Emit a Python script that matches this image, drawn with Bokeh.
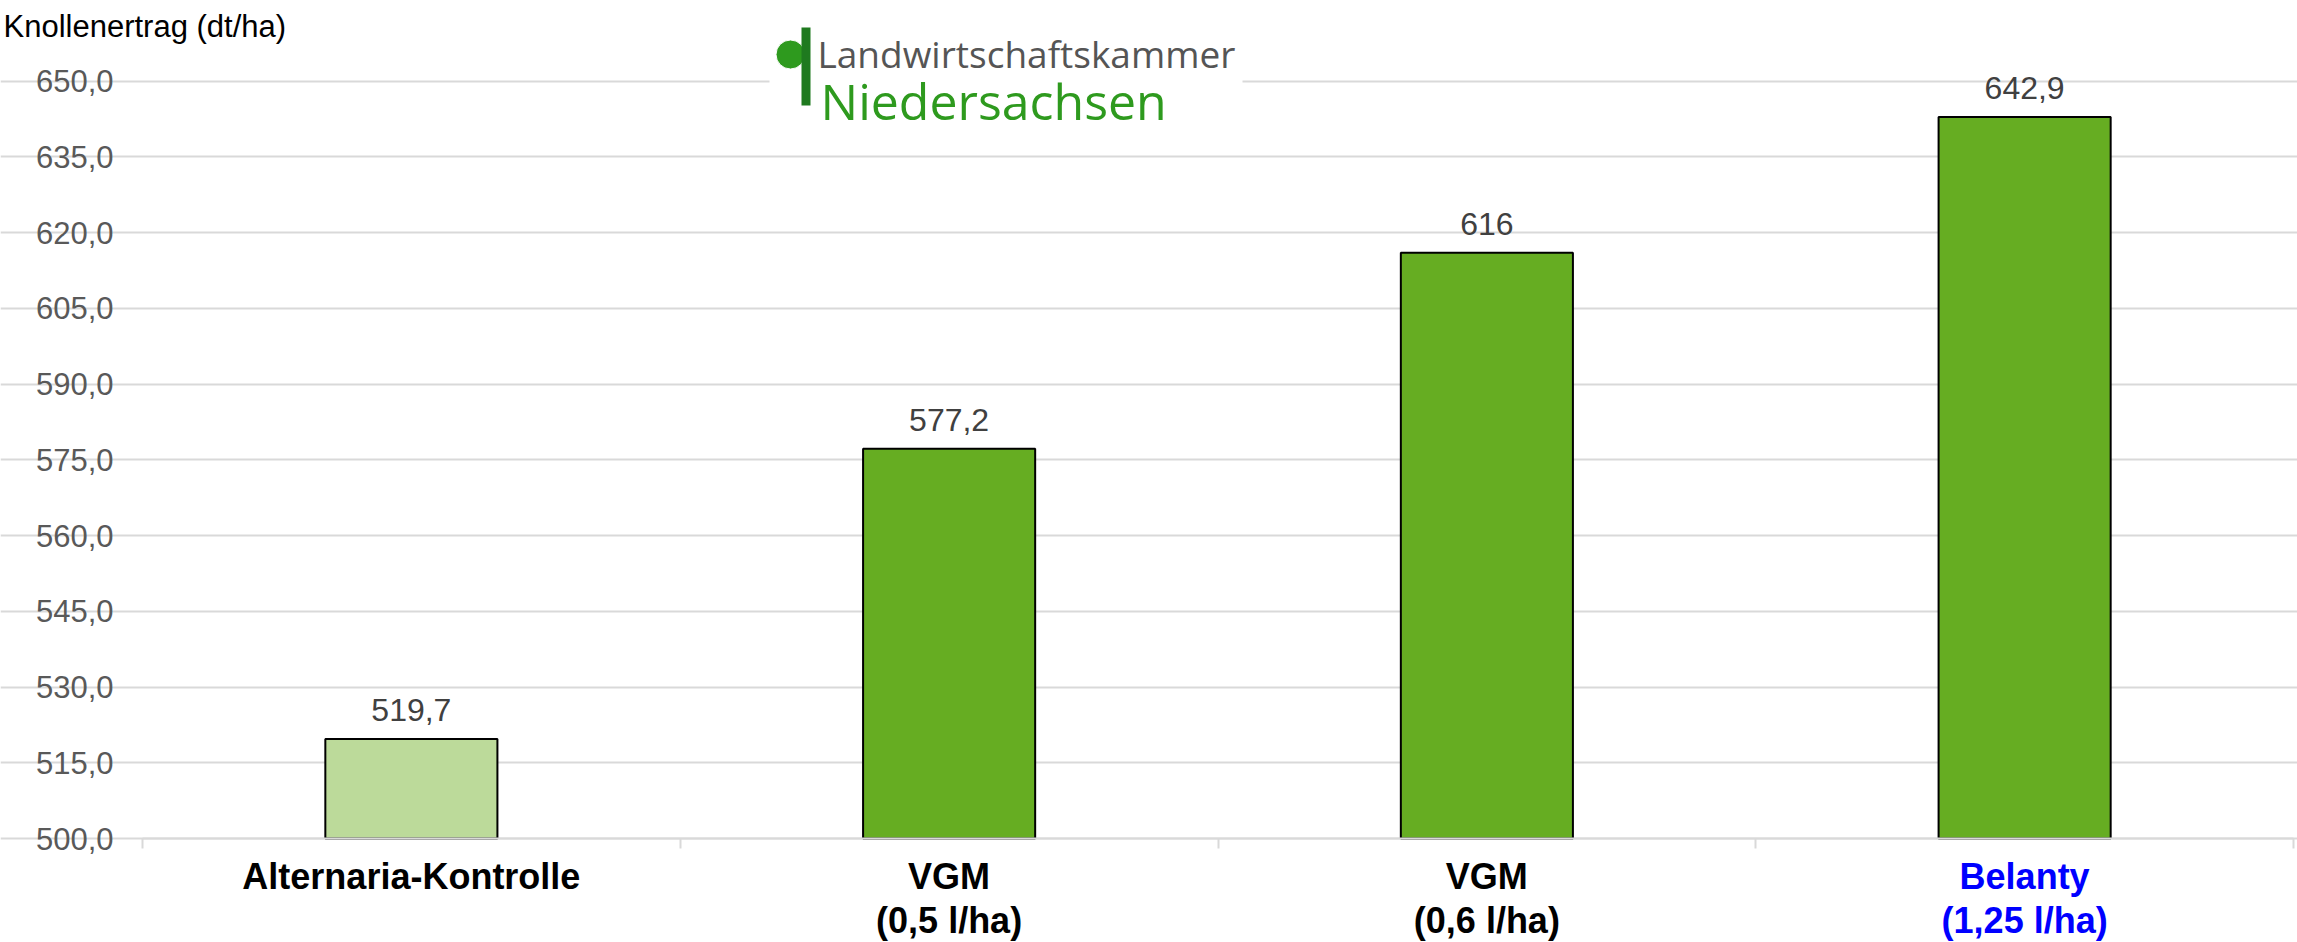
from bokeh.plotting import figure
from bokeh.models import (ColumnDataSource, LabelSet, Label, Range1d, FixedTicker)
from bokeh.core.properties import value
from bokeh.embed import file_html
from bokeh.resources import INLINE

# ---- data ----
categories_line1 = ["Alternaria-Kontrolle", "VGM", "VGM", "Belanty"]
categories_line2 = ["", "(0,5 l/ha)", "(0,6 l/ha)", "(1,25 l/ha)"]
category_colors = ["#000000", "#000000", "#000000", "#0000FF"]
yields = [519.7, 577.2, 616.0, 642.9]
yield_labels = ["519,7", "577,2", "616", "642,9"]
bar_colors = ["#BCDA9A", "#66AD22", "#66AD22", "#66AD22"]
y_ticks = [500, 515, 530, 545, 560, 575, 590, 605, 620, 635, 650]
y_tick_labels = ["500,0", "515,0", "530,0", "545,0", "560,0", "575,0",
                 "590,0", "605,0", "620,0", "635,0", "650,0"]
y_title = "Knollenertrag (dt/ha)"
logo_line1 = "Landwirtschaftskammer"
logo_line2 = "Niedersachsen"

n = len(yields)
centers = [i + 0.5 for i in range(n)]

# ---- layout (pixel geometry of the canvas) ----
W, H = 2297, 942
LEFT_PX, RIGHT_PX = 142, 2293        # plot area (category axis) extent
Y0_PX, Y1_PX = 838, 80.6             # pixel rows of 500 and 650
PX_PER_CAT = (RIGHT_PX - LEFT_PX) / n
PX_PER_UNIT = (Y0_PX - Y1_PX) / (y_ticks[-1] - y_ticks[0])


def px_x(X):
    return (X - LEFT_PX) / PX_PER_CAT


def px_y(Y):
    return y_ticks[0] + (Y0_PX - Y) / PX_PER_UNIT


p = figure(width=W, height=H, output_backend="svg", toolbar_location=None,
           x_range=Range1d(px_x(0), px_x(W)), y_range=Range1d(px_y(H), px_y(0)),
           min_border_left=0, min_border_right=0, min_border_top=0,
           min_border_bottom=0)
p.outline_line_color = None
p.background_fill_color = "white"
p.border_fill_color = "white"

# grid
p.xgrid.visible = False
p.ygrid.ticker = FixedTicker(ticks=y_ticks)
p.ygrid.grid_line_color = "#D9D9D9"
p.ygrid.grid_line_width = 2
p.ygrid.bounds = (0, n)

# y axis
ya = p.yaxis[0]
ya.fixed_location = 0
ya.ticker = FixedTicker(ticks=y_ticks)
ya.major_label_overrides = {t: l for t, l in zip(y_ticks, y_tick_labels)}
ya.axis_line_color = None
ya.major_tick_line_color = None
ya.major_tick_in = 0
ya.major_tick_out = 0
ya.minor_tick_line_color = None
ya.major_label_standoff = 29
ya.major_label_text_font = "Liberation Sans"
ya.major_label_text_font_size = "31px"
ya.major_label_text_color = "#595959"

# x axis (category boundary ticks only)
xa = p.xaxis[0]
xa.fixed_location = y_ticks[0]
xa.bounds = (0, n)
xa.ticker = FixedTicker(ticks=list(range(n + 1)))
xa.major_label_overrides = {i: "" for i in range(n + 1)}
xa.major_label_text_font_size = "1px"
xa.axis_line_color = "#D9D9D9"
xa.axis_line_width = 2
xa.major_tick_line_color = "#D9D9D9"
xa.major_tick_line_width = 2
xa.major_tick_in = 0
xa.major_tick_out = 10
xa.minor_tick_line_color = None

# bars
src = ColumnDataSource(dict(x=centers, top=yields, color=bar_colors,
                            lab=yield_labels, l1=categories_line1,
                            l2=categories_line2, tc=category_colors,
                            base=[y_ticks[0]] * n))
p.vbar(x="x", top="top", bottom=y_ticks[0], width=0.32, fill_color="color",
       line_color="black", line_width=2, source=src)

# value labels
p.add_layout(LabelSet(x="x", y="top", text="lab", source=src, y_offset=29,
                      text_align="center", text_baseline="middle",
                      text_font=value("Liberation Sans"), text_font_size="32px",
                      text_color="#404040"))

# category labels
for col, off in (("l1", -38), ("l2", -82)):
    p.add_layout(LabelSet(x="x", y="base", text=col, source=src, y_offset=off,
                          text_align="center", text_baseline="middle",
                          text_font=value("Liberation Sans"),
                          text_font_style="bold", text_font_size="36px",
                          text_color="tc"))

# y title
p.add_layout(Label(x=px_x(3), y=px_y(26), text=y_title, text_align="left",
                   text_baseline="middle", text_font="Liberation Sans",
                   text_font_size="31px", text_color="#000000"))

# logo
p.quad(left=[px_x(769)], right=[px_x(1242)], top=[px_y(20)], bottom=[px_y(112)],
       fill_color="white", line_color=None)
p.scatter(x=[px_x(790)], y=[px_y(54)], size=29, fill_color="#2E9A1E",
          line_color="white", line_width=1)
p.quad(left=[px_x(801)], right=[px_x(810)], top=[px_y(27)], bottom=[px_y(105)],
       fill_color="#1F7A1F", line_color=None)
p.text(x=[px_x(817)], y=[px_y(53)], text=[logo_line1], text_align="left",
       text_baseline="alphabetic", text_font=value("Open Sans"),
       text_font_size="37px", text_color="#555555")
p.text(x=[px_x(820)], y=[px_y(100)], text=[logo_line2], text_align="left",
       text_baseline="alphabetic", text_font=value("Open Sans"),
       text_font_size="50px", text_color="#2E9A1E")

open("out.html", "w").write(file_html(p, INLINE))
